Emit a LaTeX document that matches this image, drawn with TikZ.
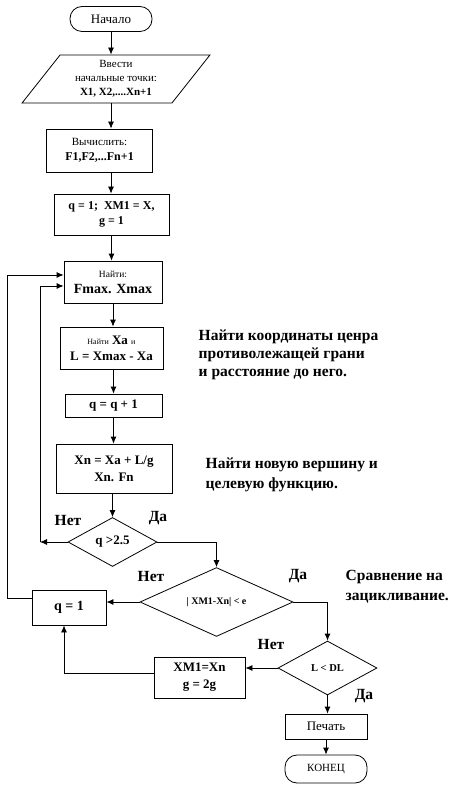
\documentclass[tikz,border=0pt]{standalone}
\usepackage{fontspec}
\setmainfont{Liberation Serif}
\usetikzlibrary{positioning,shapes.geometric,arrows.meta}

\begin{document}
\begin{tikzpicture}[
x=1pt, y=-1pt,
line width=0.8pt,
>={Latex[length=7pt,width=6pt]},
blocknode/.style={rectangle, draw, align=center, inner sep=0pt},
termnode/.style={rectangle, rounded corners=12pt, draw, align=center, inner sep=0pt},
ionode/.style={trapezium, trapezium left angle=53, trapezium right angle=127, trapezium stretches=true, draw, align=center, inner sep=0pt},
decisionnode/.style={diamond, draw, align=center, inner sep=0pt},
notenode/.style={align=left, anchor=west},
answer/.style={font=\bfseries\fontsize{15.5}{18}\selectfont},
]
\useasboundingbox (0,0) rectangle (464,786);

% Main column
\node[termnode, minimum width=82pt, minimum height=25pt, font=\fontsize{13}{15}\selectfont] (start) at (111,19) {Начало};
\node[ionode, minimum width=188pt, minimum height=48pt, font=\fontsize{11}{14}\selectfont] (input) at (116,79) {Ввести\\начальные точки:\\\textbf{X1, X2,....Xn+1}};
\node[blocknode, minimum width=106pt, minimum height=43pt, font=\fontsize{11}{15}\selectfont] (calc) at (99.5,150.5) {Вычислить:\\{\bfseries\fontsize{12}{15}\selectfont F1,F2,...Fn+1}};
\node[blocknode, minimum width=115pt, minimum height=41pt, font=\bfseries\fontsize{12}{15}\selectfont] (init) at (111.5,214.5) {q = 1;\ \ XM1 = X,\\g = 1};
\node[blocknode, minimum width=98pt, minimum height=42pt, font=\fontsize{9.5}{16}\selectfont] (find) at (113,282) {Найти:\\{\bfseries\fontsize{14}{16}\selectfont Fmax. Xmax}};
\node[blocknode, minimum width=103pt, minimum height=42pt, font=\bfseries\fontsize{13}{16}\selectfont] (center) at (111.5,348) {{\mdseries\fontsize{8}{9}\selectfont Найти} Xa {\mdseries\fontsize{8}{9}\selectfont и}\\L = Xmax - Xa};
\node[blocknode, minimum width=97pt, minimum height=23pt, font=\bfseries\fontsize{13}{16}\selectfont] (inc) at (113.5,405.5) {q = q + 1};
\node[blocknode, minimum width=116pt, minimum height=49pt, font=\bfseries\fontsize{13}{17}\selectfont] (newpt) at (114,468.5) {Xn = Xa + L/g\\Xn. Fn};

% Decisions
\node[decisionnode, minimum width=89pt, minimum height=49pt, font=\bfseries\fontsize{13}{15}\selectfont] (d1) at (112.5,542) {q >2.5};
\node[decisionnode, minimum width=153pt, minimum height=54pt, font=\bfseries\fontsize{10}{12}\selectfont] (d2) at (216.5,602) {| XM1-Xn| < e};
\node[decisionnode, minimum width=99pt, minimum height=54pt, font=\bfseries\fontsize{10.5}{12}\selectfont] (d3) at (327.5,668) {L < DL};

% Side blocks and end
\node[blocknode, minimum width=74pt, minimum height=35pt, font=\bfseries\fontsize{14}{16}\selectfont] (reset) at (69,607.5) {q = 1};
\node[blocknode, minimum width=91pt, minimum height=41pt, font=\bfseries\fontsize{13}{17}\selectfont] (upd) at (199.5,677.5) {XM1=Xn\\g = 2g};
\node[blocknode, minimum width=82pt, minimum height=25pt, font=\fontsize{13}{15}\selectfont] (print) at (326,726.5) {Печать};
\node[termnode, minimum width=82pt, minimum height=28pt, font=\fontsize{11}{13}\selectfont] (stop) at (326,769) {КОНЕЦ};

% Comments
\node[notenode, font=\bfseries\fontsize{15.5}{18.3}\selectfont] (note1) at (195,355) {Найти координаты ценра\\противолежащей грани\\и расстояние до него.};
\node[notenode, font=\bfseries\fontsize{15.5}{20}\selectfont] (note2) at (202,475) {Найти новую вершину и\\целевую функцию.};
\node[notenode, font=\bfseries\fontsize{15.5}{20}\selectfont] (note3) at (342,587) {Сравнение на\\зацикливание.};

% Branch labels
\node[answer] (no1) at (68,520) {Нет};
\node[answer] (yes1) at (158,518) {Да};
\node[answer] (no2) at (151,576) {Нет};
\node[answer] (yes2) at (298,576) {Да};
\node[answer] (no3) at (271,644) {Нет};
\node[answer] (yes3) at (364,696) {Да};

% Loop corners
\coordinate (loopin) at (40,542);
\coordinate (loopout) at (7,598);

% Main flow
\draw[->] (start.south) -- (start.south |- input.north);
\draw[->] (start.south |- input.south) -- (start.south |- calc.north);
\draw[->] (start.south |- calc.south) -- (start.south |- init.north);
\draw[->] (init.south) -- (init.south |- find.north);
\draw[->] (find.south) -- (find.south |- center.north);
\draw[->] (inc.north |- center.south) -- (inc.north);
\draw[->] (inc.south) -- (inc.south |- newpt.north);
\draw[->] (d1.north |- newpt.south) -- (d1.north);

% Branches
\draw[->] (d1.west) -- (loopin);
\draw[->] (loopin) |- ([yshift=-4pt]find.west);
\draw[->] (d1.east) -| (d2.north);
\draw[->] (d2.west) -- (d2.west -| reset.east);
\draw[->] ([yshift=9.5pt]reset.west) -- (loopout) |- ([yshift=7pt]find.west);
\draw[->] (d2.east) -| (d3.north);
\draw[->] (d3.west) -- (d3.west -| upd.east);
\draw[->] ([yshift=4.5pt]upd.west) -| ([xshift=-5pt]reset.south);
\draw[->] (d3.south) -- (d3.south |- print.north);
\draw[->] (print.south) -- (stop.north);

\end{tikzpicture}
\end{document}
